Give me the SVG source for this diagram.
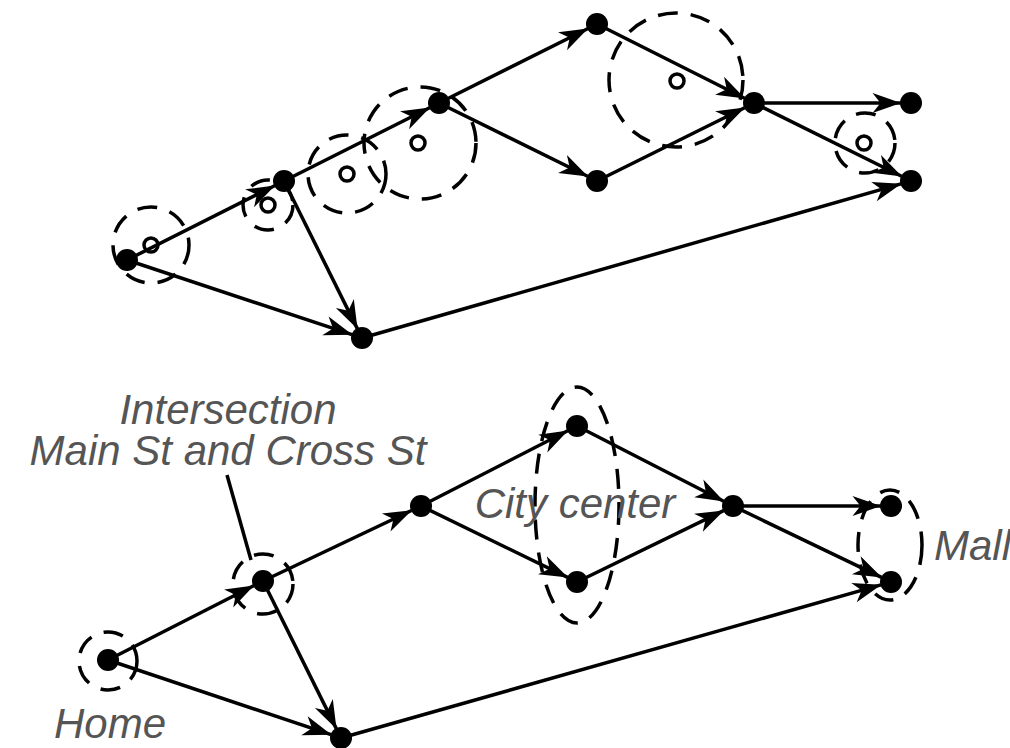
<svg xmlns="http://www.w3.org/2000/svg" width="1010" height="748" viewBox="0 0 1010 748">
<style>
.e{stroke:#000;stroke-width:3.5;fill:none;marker-end:url(#ah)}
.n{fill:#000}
.d{stroke:#000;stroke-width:3.5;fill:none;stroke-dasharray:20 13}
.h{stroke:#000;stroke-width:3.5;fill:none}
.t{font-family:"Liberation Sans",Arial,sans-serif;font-style:italic;font-size:42px;fill:#555}
</style>
<defs>
<marker id="ah" markerUnits="userSpaceOnUse" markerWidth="34" markerHeight="26" viewBox="-30 -13 34 26" refX="1" refY="0" orient="auto">
<path d="M1.5,0 L-27,-10 L-19,0 L-27,10 Z" fill="#000"/>
</marker>
</defs>
<g id="connectors">
<line class="e" x1="127" y1="260" x2="274.6" y2="185.7"/>
<line class="e" x1="127" y1="260" x2="352" y2="334.7"/>
<line class="e" x1="284" y1="181" x2="429.6" y2="107.7"/>
<line class="e" x1="284" y1="181" x2="357.3" y2="328.6"/>
<line class="e" x1="439" y1="103" x2="587.6" y2="28.7"/>
<line class="e" x1="439" y1="103" x2="587.6" y2="176.3"/>
<line class="e" x1="597" y1="24" x2="744.6" y2="98.3"/>
<line class="e" x1="597" y1="181" x2="744.6" y2="107.7"/>
<line class="e" x1="754" y1="103" x2="900.5" y2="103"/>
<line class="e" x1="754" y1="103" x2="901.6" y2="176.3"/>
<line class="e" x1="362" y1="338" x2="900.9" y2="183.9"/>
<line class="e" x1="108" y1="660" x2="253.6" y2="585.8"/>
<line class="e" x1="108" y1="660" x2="331" y2="734.7"/>
<line class="e" x1="263" y1="581" x2="411.5" y2="510.5"/>
<line class="e" x1="263" y1="581" x2="336.3" y2="728.6"/>
<line class="e" x1="421" y1="506" x2="567.7" y2="430.8"/>
<line class="e" x1="421" y1="506" x2="567.6" y2="577.4"/>
<line class="e" x1="577" y1="426" x2="723.7" y2="501.2"/>
<line class="e" x1="577" y1="582" x2="723.6" y2="510.6"/>
<line class="e" x1="733" y1="506" x2="880.5" y2="506"/>
<line class="e" x1="733" y1="506" x2="881.5" y2="577.4"/>
<line class="e" x1="341" y1="738" x2="880.9" y2="584.9"/>
<line class="h" x1="227" y1="475" x2="251" y2="560"/>
</g>
<g id="regions-top">
<circle class="d" cx="151" cy="245" r="38"/>
<circle class="h" cx="151" cy="245" r="7"/>
<circle class="d" cx="268" cy="205" r="25"/>
<circle class="h" cx="268" cy="205" r="7"/>
<circle class="d" cx="347" cy="174" r="39"/>
<circle class="h" cx="347" cy="174" r="7"/>
<circle class="d" cx="420" cy="143" r="56"/>
<circle class="h" cx="418" cy="143" r="7"/>
<circle class="d" cx="676" cy="80" r="67"/>
<circle class="h" cx="677" cy="81" r="7"/>
<circle class="d" cx="865" cy="143" r="30"/>
<circle class="h" cx="864" cy="143" r="7"/>
</g>
<g id="regions-bottom">
<circle class="d" cx="108" cy="661" r="29"/>
<circle class="d" cx="263" cy="584" r="30"/>
<ellipse id="city-center" class="d" cx="577" cy="505" rx="42" ry="118"/>
<ellipse id="mall" class="d" cx="890" cy="545" rx="32" ry="55"/>
</g>
<g id="nodes-top">
<circle id="a1" class="n" cx="127" cy="260" r="11"/>
<circle id="b1" class="n" cx="284" cy="181" r="11"/>
<circle id="c1" class="n" cx="439" cy="103" r="11"/>
<circle id="d1" class="n" cx="597" cy="24" r="11"/>
<circle id="e1" class="n" cx="597" cy="181" r="11"/>
<circle id="f1" class="n" cx="754" cy="103" r="11"/>
<circle id="g1" class="n" cx="911" cy="103" r="11"/>
<circle id="h1" class="n" cx="911" cy="181" r="11"/>
<circle id="i1" class="n" cx="362" cy="338" r="11"/>
</g>
<g id="nodes-bottom">
<circle id="home" class="n" cx="108" cy="660" r="11"/>
<circle id="b2" class="n" cx="263" cy="581" r="11"/>
<circle id="c2" class="n" cx="421" cy="506" r="11"/>
<circle id="d2" class="n" cx="577" cy="426" r="11"/>
<circle id="e2" class="n" cx="577" cy="582" r="11"/>
<circle id="f2" class="n" cx="733" cy="506" r="11"/>
<circle id="g2" class="n" cx="891" cy="506" r="11"/>
<circle id="h2" class="n" cx="891" cy="582" r="11"/>
<circle id="i2" class="n" cx="341" cy="738" r="11"/>
</g>
<g id="labels">
<text class="t" x="228" y="424" text-anchor="middle">Intersection</text>
<text class="t" x="228" y="465" text-anchor="middle">Main St and Cross St</text>
<text class="t" x="54" y="738">Home</text>
<text class="t" x="575" y="518" text-anchor="middle">City center</text>
<text class="t" x="934" y="560">Mall</text>
</g>
</svg>
